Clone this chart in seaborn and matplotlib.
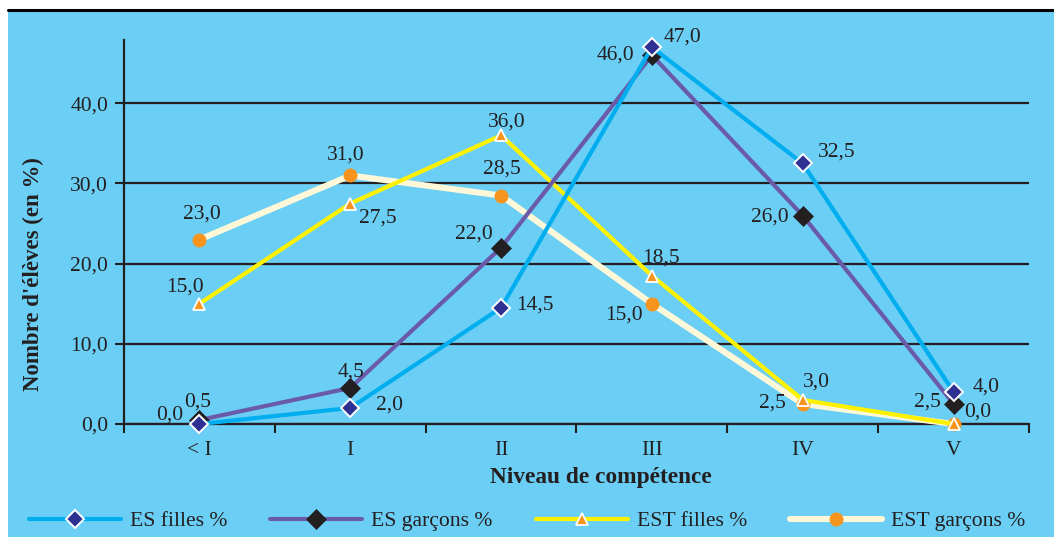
import numpy as np
import pandas as pd
import matplotlib
matplotlib.use("Agg")
import matplotlib.pyplot as plt
from matplotlib.patches import Rectangle
from matplotlib.lines import Line2D
import seaborn as sns

# Proficiency levels and percentage of pupils per level
levels = ["< I", "I", "II", "III", "IV", "V"]
es_filles = [0.0, 2.0, 14.5, 47.0, 32.5, 4.0]
es_garcons = [0.5, 4.5, 22.0, 46.0, 26.0, 2.5]
est_filles = [15.0, 27.5, 36.0, 18.5, 3.0, 0.0]
est_garcons = [23.0, 31.0, 28.5, 15.0, 2.5, 0.0]
series_names = ["ES filles %", "ES garçons %", "EST filles %", "EST garçons %"]
y_ticks = [0, 10, 20, 30, 40]

BG = "#6BCEF5"
INK = "#231F20"

sns.set_style("white")
plt.rcParams["font.family"] = ["Liberation Serif", "DejaVu Serif"]
plt.rcParams["text.color"] = INK

fig = plt.figure(figsize=(10.54, 5.37), dpi=100)
fig.patch.set_facecolor("white")
# blue panel with a black rule along its top edge
fig.patches.append(Rectangle((8 / 1054, 0), 1 - 8 / 1054, 1 - 11 / 537,
                             transform=fig.transFigure, facecolor=BG,
                             edgecolor="none", zorder=-10))
fig.lines.append(Line2D([8 / 1054, 1], [1 - 10 / 537, 1 - 10 / 537],
                        transform=fig.transFigure, color="black", lw=2.2))

ax = fig.add_axes([124 / 1054, 113 / 537, (1029 - 124) / 1054, (424 - 40) / 537])
ax.set_facecolor("none")

x = np.arange(len(levels))
df = pd.DataFrame({"niveau": x, series_names[0]: es_filles, series_names[1]: es_garcons,
                   series_names[2]: est_filles, series_names[3]: est_garcons})

styles = {
    "EST garçons %": dict(color="#FFF8D8", lw=4.4, marker="o", ms=9.5, mfc="#F7941D",
                          mec="#F7941D", mew=0.5, zorder=3),
    "EST filles %": dict(color="#FFF200", lw=3.0, marker="^", ms=8, mfc="#F7941D",
                         mec="white", mew=1.3, zorder=4),
    "ES garçons %": dict(color="#6A5BAA", lw=3.0, marker="D", ms=10.5, mfc=INK,
                         mec=INK, mew=0.5, zorder=5),
    "ES filles %": dict(color="#00AEEF", lw=3.0, marker="D", ms=9, mfc="#2E3192",
                        mec="white", mew=1.4, zorder=6),
}
for name in ["EST garçons %", "EST filles %", "ES garçons %", "ES filles %"]:
    st = styles[name]
    sns.lineplot(data=df, x="niveau", y=name, ax=ax, color=st["color"], lw=st["lw"],
                 marker=st["marker"], markersize=st["ms"], markerfacecolor=st["mfc"],
                 markeredgecolor=st["mec"], markeredgewidth=st["mew"],
                 zorder=st["zorder"], clip_on=False, label=name, legend=False)

# value labels, offsets in pixels from each point
offsets = {
    "ES filles %": [(-30, 9), (39, 3), (34, 3), (31, 10), (34, 11), (33, 5)],
    "ES garçons %": [(-2, 18), (1, 16), (-27, 14), (-36, 0), (-33, -1), (-26, 2)],
    "EST filles %": [(-14, 17), (28, -15), (6, 13), (9, 18), (14, 18), (24, 12)],
    "EST garçons %": [(2, 26), (-5, 20), (1, 26), (-28, -11), (-30, 1), None],
}
for name in series_names:
    for xi, v, off in zip(x, df[name], offsets[name]):
        if off is None:
            continue
        ax.annotate(f"{v:.1f}".replace(".", ","), (xi, v), xytext=off,
                    textcoords="offset pixels", ha="center", va="center",
                    fontsize=15.5, color=INK, zorder=8, annotation_clip=False)

ax.set_xlim(-0.5, len(levels) - 0.5)
ax.set_ylim(0, 47.9)

ax.set_yticks(y_ticks)
ax.set_yticklabels([f"{t:.1f}".replace(".", ",") for t in y_ticks])
ax.tick_params(axis="y", direction="out", length=6.5, width=1.5, color=INK,
               labelsize=15.5, labelcolor=INK, pad=5, left=True)

ax.set_xticks(np.arange(-0.5, len(levels), 1.0))
ax.set_xticklabels([])
ax.set_xticks(x, labels=levels, minor=True)
ax.tick_params(axis="x", which="major", direction="out", length=6.5, width=1.5,
               color=INK, bottom=True)
ax.tick_params(axis="x", which="minor", length=0, labelsize=15.5, labelcolor=INK, pad=12)

ax.yaxis.grid(True, color=INK, lw=1.6)
ax.xaxis.grid(False)
ax.set_axisbelow(True)
for side in ["top", "right"]:
    ax.spines[side].set_visible(False)
for side in ["left", "bottom"]:
    ax.spines[side].set_color(INK)
    ax.spines[side].set_linewidth(1.6)
    ax.spines[side].set_zorder(2)

ax.set_xlabel("Niveau de compétence", fontsize=16.8, fontweight="bold", color=INK)
ax.xaxis.set_label_coords(0.527, -0.112)
ax.set_ylabel("Nombre d'élèves (en %)", fontsize=16.5, fontweight="bold", color=INK)
ax.yaxis.set_label_coords(-0.088, 0.39)

handles = []
for name in series_names:
    st = styles[name]
    handles.append(Line2D([], [], color=st["color"], lw=st["lw"], marker=st["marker"],
                          markersize=st["ms"], markerfacecolor=st["mfc"],
                          markeredgecolor=st["mec"], markeredgewidth=st["mew"]))
fig.legend(handles, series_names, loc="center", bbox_to_anchor=(527 / 1054, 1 - 521 / 537),
           ncol=4, frameon=False, fontsize=15.6, handlelength=4.25, handletextpad=0.4,
           columnspacing=2.0, numpoints=1, labelcolor=INK)

fig.savefig("out.png", dpi=100, facecolor=fig.get_facecolor())
